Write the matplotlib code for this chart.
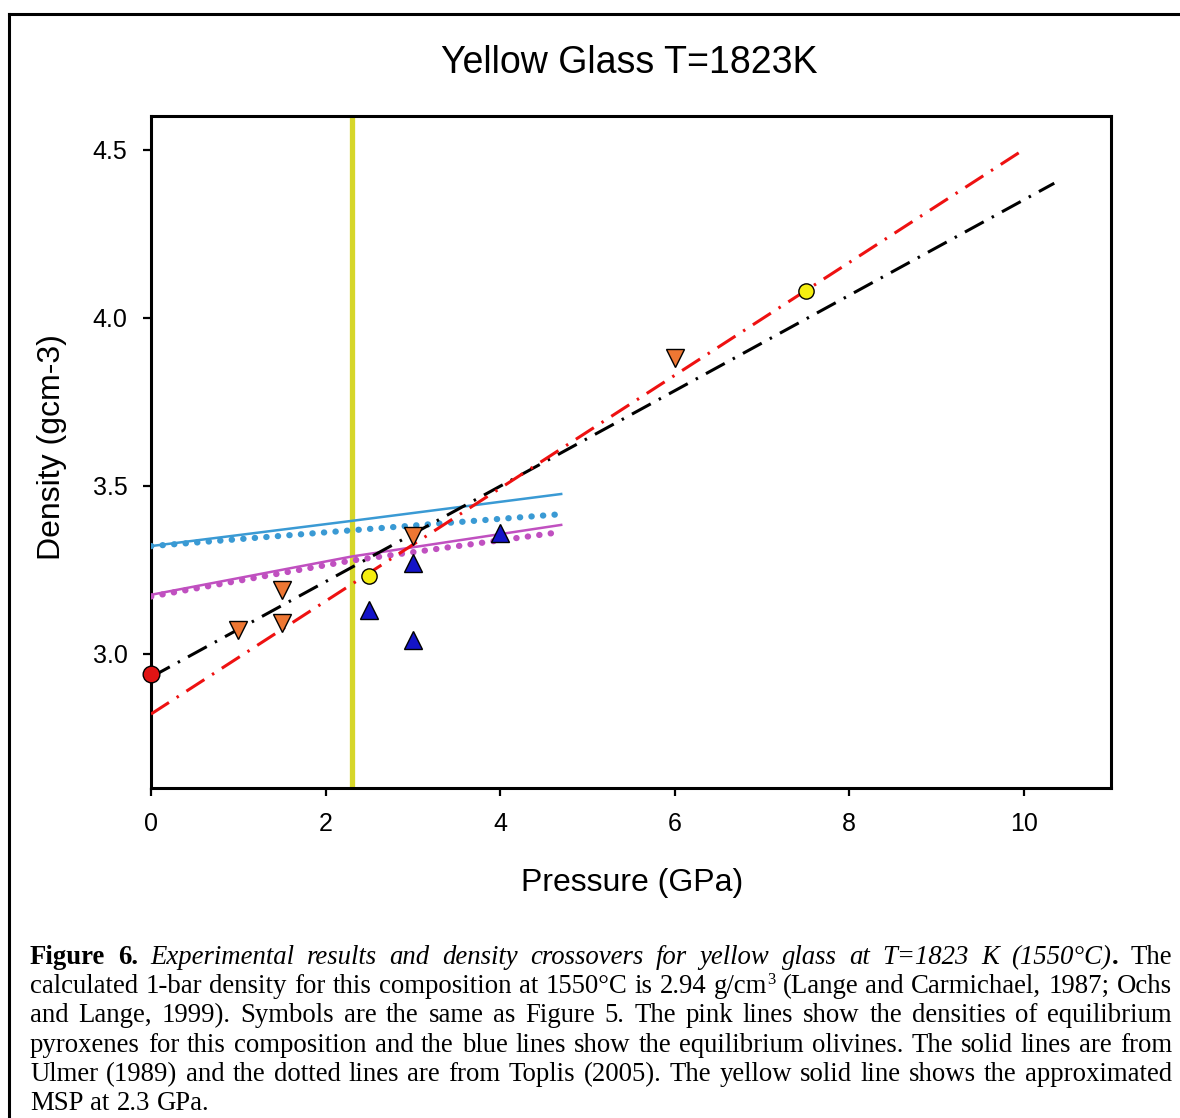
import matplotlib
matplotlib.use('Agg')
import matplotlib.pyplot as plt
from matplotlib.lines import Line2D

plt.rcParams['font.family'] = 'Liberation Sans'

# experimental points (pressure GPa, density g/cm3)
p_1bar = [0]
d_1bar = [2.94]
p_yellow = [2.5, 7.5]
d_yellow = [3.23, 4.08]
p_sink = [1, 1.5, 1.5, 3, 6]
d_sink = [3.07, 3.19, 3.09, 3.35, 3.88]
p_float = [2.5, 3, 3, 4]
d_float = [3.13, 3.27, 3.04, 3.36]

# fits
p_fit_black = [0, 10.35]
d_fit_black = [2.93, 4.40]
p_fit_red = [0, 10.0]
d_fit_red = [2.82, 4.50]

# olivine (blue) and pyroxene (pink), Ulmer solid / Toplis dotted
p_ol_ulmer = [0, 2.3, 4.7]
d_ol_ulmer = [3.32, 3.395, 3.475]
p_ol_toplis = [0, 2.3, 4.7]
d_ol_toplis = [3.32, 3.367, 3.415]
p_px_ulmer = [0, 2.3, 4.7]
d_px_ulmer = [3.175, 3.289, 3.383]
p_px_toplis = [0, 2.3, 4.7]
d_px_toplis = [3.17, 3.277, 3.362]

msp = 2.3

W, H = 1180, 1118
fig = plt.figure(figsize=(W / 100, H / 100), dpi=100)
ax = fig.add_axes([151 / W, 1 - 788 / H, (1111 - 151) / W, (788 - 116) / H])

ax.axvline(msp, color='#d6d62a', lw=3.8, zorder=2)

ax.plot(p_ol_ulmer, d_ol_ulmer, color='#3a9ad4', lw=1.8, zorder=3)
ax.plot(p_px_ulmer, d_px_ulmer, color='#c050c0', lw=1.8, zorder=3)
ax.plot(p_ol_toplis, d_ol_toplis, color='#3a9ad4', lw=4.5,
        linestyle=(0, (0.05, 1.8)), dash_capstyle='round', zorder=3)
ax.plot(p_px_toplis, d_px_toplis, color='#c050c0', lw=4.5,
        linestyle=(0, (0.05, 1.8)), dash_capstyle='round', zorder=3)

ax.plot(p_fit_black, d_fit_black, color='black', lw=2.2,
        linestyle=(0, (7, 3, 0.8, 3)), zorder=4)
ax.plot(p_fit_red, d_fit_red, color='#ee1111', lw=2.2,
        linestyle=(0, (7, 3, 0.8, 3)), zorder=4)

ax.plot(p_sink, d_sink, 'v', color='#ee7733', mec='black', mew=1, ms=13, zorder=5)
ax.plot(p_float, d_float, '^', color='#1414c8', mec='black', mew=1, ms=13, zorder=5)
ax.plot(p_yellow, d_yellow, 'o', color='#f5ee10', mec='black', mew=1, ms=11, zorder=5)
ax.plot(p_1bar, d_1bar, 'o', color='#e01414', mec='black', mew=1, ms=12, zorder=6,
        clip_on=False)

ax.set_xlim(0, 11)
ax.set_ylim(2.6, 4.6)
ax.set_xticks([0, 2, 4, 6, 8, 10])
ax.set_yticks([3.0, 3.5, 4.0, 4.5])
ax.set_yticklabels(['3.0', '3.5', '4.0', '4.5'])
for s in ax.spines.values():
    s.set_linewidth(2.2)
ax.tick_params(direction='out', length=6, width=1.6, labelsize=18, pad=11)

fig.text(629 / W, 1 - 63 / H, 'Yellow Glass T=1823K', ha='center', va='center', fontsize=27)
fig.text(632 / W, 1 - 883 / H, 'Pressure (GPa)', ha='center', va='center', fontsize=23)
fig.text(52 / W, 1 - 447 / H, 'Density (gcm-3)', ha='center', va='center',
         fontsize=23, rotation=90)

# outer frame (left and top edges)
fig.add_artist(Line2D([9 / W, 9 / W], [0, 1 - 14 / H], transform=fig.transFigure,
                      color='black', lw=2.2))
fig.add_artist(Line2D([9 / W, 1], [1 - 14 / H, 1 - 14 / H], transform=fig.transFigure,
                      color='black', lw=2.2))

# caption, justified word by word
cap_size = 19.3
styles = {
    'n': dict(family='Liberation Serif', size=cap_size),
    'b': dict(family='Liberation Serif', size=cap_size, weight='bold'),
    'i': dict(family='Liberation Serif', size=cap_size, style='italic'),
    's': dict(family='Liberation Serif', size=cap_size * 0.62),
}
caption = [
    [('Figure 6.', 'b'), (' Experimental results and density crossovers for yellow glass at T=1823 K (1550°C)', 'i'),
     ('.', 'b'), (' The', 'n')],
    [('calculated 1-bar density for this composition at 1550°C is 2.94 g/cm', 'n'), ('3', 's'),
     (' (Lange and Carmichael, 1987; Ochs', 'n')],
    [('and Lange, 1999). Symbols are the same as Figure 5. The pink lines show the densities of equilibrium', 'n')],
    [('pyroxenes for this composition and the blue lines show the equilibrium olivines. The solid lines are from', 'n')],
    [('Ulmer (1989) and the dotted lines are from Toplis (2005). The yellow solid line shows the approximated', 'n')],
    [('MSP at 2.3 GPa.', 'n')],
]


def split_words(runs):
    words = []
    new_word = True
    for text, st in runs:
        parts = text.split(' ')
        for i, part in enumerate(parts):
            if i > 0:
                new_word = True
            if part == '':
                continue
            if new_word:
                words.append([])
                new_word = False
            words[-1].append((part, st))
    return words


renderer = fig.canvas.get_renderer()
t_a = fig.text(0, 0, 'a', **styles['n'])
t_aa = fig.text(0, 0, 'a a', **styles['n'])
sw = t_aa.get_window_extent(renderer).width - 2 * t_a.get_window_extent(renderer).width
t_a.remove()
t_aa.remove()

x_left, x_right = 30, 1172
y0, dy = 964, 29.2
for k, runs in enumerate(caption):
    words = split_words(runs)
    y = 1 - (y0 + k * dy) / H
    placed = []
    widths = []
    for word in words:
        pieces = []
        w = 0
        for part, st in word:
            t = fig.text(0, y, part, va='baseline', ha='left', **styles[st])
            pw = t.get_window_extent(renderer).width
            pieces.append((t, w, st))
            w += pw
        placed.append(pieces)
        widths.append(w)
    if k == len(caption) - 1:
        gap = sw
    else:
        gap = (x_right - x_left - sum(widths)) / (len(words) - 1)
    x = x_left
    for pieces, w in zip(placed, widths):
        for t, off, st in pieces:
            t.set_x((x + off) / W)
            if st == 's':
                t.set_y(y + 9 / H)
        x += w + gap

fig.savefig('out.png', dpi=100)
